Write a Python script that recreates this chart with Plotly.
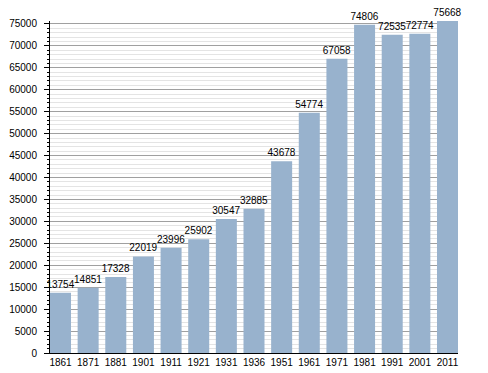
import plotly.graph_objects as go

years = ["1861", "1871", "1881", "1901", "1911", "1921", "1931", "1936",
         "1951", "1961", "1971", "1981", "1991", "2001", "2011"]
population = [13754, 14851, 17328, 22019, 23996, 25902, 30547, 32885,
              43678, 54774, 67058, 74806, 72535, 72774, 75668]
y_ticks = list(range(0, 75001, 5000))

fig = go.Figure(go.Bar(
    x=years, y=population,
    marker=dict(color="rgb(152,178,205)", line=dict(width=0)),
    text=[str(v) for v in population],
    textposition="outside",
    constraintext="none",
    cliponaxis=False,
    textfont=dict(family="Liberation Sans, Arial, sans-serif", size=10, color="black"),
))

fig.update_layout(
    width=488, height=373,
    margin=dict(l=50, r=30, t=21, b=20, autoexpand=False),
    paper_bgcolor="white", plot_bgcolor="white",
    bargap=0.24,
    showlegend=False,
    font=dict(family="Liberation Sans, Arial, sans-serif", size=10, color="black"),
)
fig.update_xaxes(
    type="category",
    range=[-0.38, 14.38],
    showgrid=False,
    showline=True, linecolor="black", linewidth=1,
    ticks="", tickfont=dict(size=10),
    automargin=False,
    fixedrange=True,
)
fig.update_yaxes(
    range=[0, 75668],
    tickvals=y_ticks,
    tickformat="d",
    showgrid=True, gridcolor="rgb(160,160,160)", gridwidth=1,
    showline=True, linecolor="black", linewidth=1,
    ticks="outside", ticklen=5, tickcolor="black",
    ticklabelstandoff=5,
    tickfont=dict(size=10),
    zeroline=False,
    automargin=False,
    fixedrange=True,
    minor=dict(dtick=1000, showgrid=True, gridcolor="rgb(228,228,228)", gridwidth=1,
               ticks="outside", ticklen=2, tickcolor="black"),
)

fig.write_html("out.html",
               config={"displayModeBar": False, "staticPlot": True},
               post_script="document.body.style.margin='0';document.body.style.overflow='hidden';")
